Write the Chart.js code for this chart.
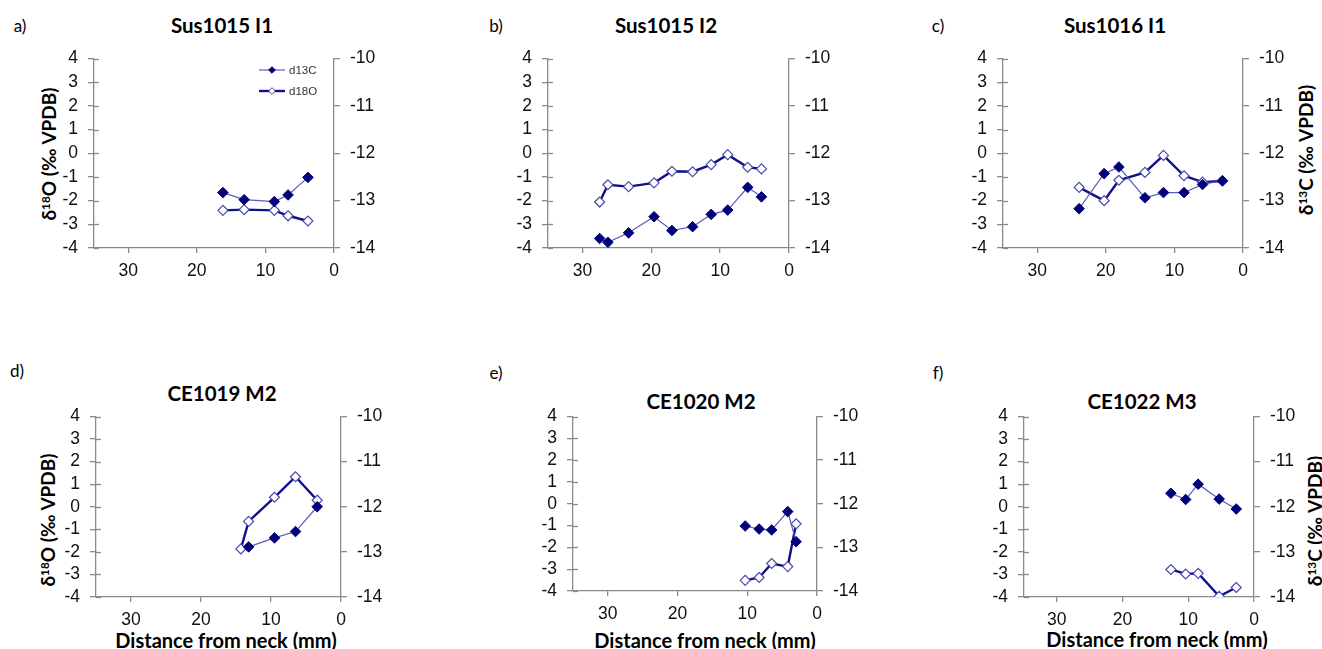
<!DOCTYPE html>
<html><head><meta charset="utf-8">
<script src="https://cdn.jsdelivr.net/npm/chart.js@4.4.1/dist/chart.umd.min.js"></script>
<style>
body{margin:0;background:#fff;width:1322px;height:649px;overflow:hidden;position:relative;font-family:Lato,"Open Sans",sans-serif;}
.box{position:absolute;}
.t{position:absolute;transform:translate(-50%,-50%);white-space:nowrap;color:#000;line-height:1;}
.lab{font-size:17px;}
.ttl{font-weight:bold;font-size:20.5px;}
.ax{font-weight:bold;font-size:19px;}
.axx{font-weight:bold;font-size:20px;}
.rot{transform:translate(-50%,-50%) rotate(-90deg);}
sup{font-size:0.62em;vertical-align:0.5em;line-height:0;}
</style></head><body>
<div class="t lab" style="left:20px;top:25px">a)</div>
<div class="t lab" style="left:496px;top:25px">b)</div>
<div class="t lab" style="left:938px;top:25px">c)</div>
<div class="t lab" style="left:17px;top:370px">d)</div>
<div class="t lab" style="left:496px;top:372px">e)</div>
<div class="t lab" style="left:938px;top:372px">f)</div>
<div class="t ttl" style="left:222px;top:25px">Sus1015 I1</div>
<div class="t ttl" style="left:666px;top:25px">Sus1015 I2</div>
<div class="t ttl" style="left:1115px;top:25px">Sus1016 I1</div>
<div class="t ttl" style="left:222px;top:393px">CE1019 M2</div>
<div class="t ttl" style="left:701px;top:401px">CE1020 M2</div>
<div class="t ttl" style="left:1142px;top:401px">CE1022 M3</div>
<div class="t ax rot" style="left:48px;top:154px">δ<sup>18</sup>O (‰ VPDB)</div>
<div class="t ax rot" style="left:47px;top:520px">δ<sup>18</sup>O (‰ VPDB)</div>
<div class="t ax rot" style="left:1305px;top:150px">δ<sup>13</sup>C (‰ VPDB)</div>
<div class="t ax rot" style="left:1314px;top:521px">δ<sup>13</sup>C (‰ VPDB)</div>
<div class="t axx" style="left:226px;top:640px">Distance from neck (mm)</div>
<div class="t axx" style="left:705px;top:640px">Distance from neck (mm)</div>
<div class="t axx" style="left:1157px;top:639px">Distance from neck (mm)</div>
<script>
// ---- data (distance from neck in mm; d13C on right axis, d18O on left axis, ‰ VPDB) ----
const aDist = [16.2, 13.1, 8.7, 6.7, 3.8];
const aD13C = [-12.83, -12.98, -13.02, -12.88, -12.51];
const aD18O = [-2.41, -2.38, -2.41, -2.64, -2.86];

const bDist = [27.5, 26.3, 23.3, 19.6, 17.0, 14.0, 11.3, 8.9, 6.0, 4.0];
const bD13C = [-13.80, -13.88, -13.68, -13.34, -13.63, -13.55, -13.29, -13.20, -12.72, -12.92];
const bD18O = [-2.06, -1.33, -1.41, -1.25, -0.76, -0.78, -0.48, -0.06, -0.59, -0.66];

const cDist = [23.9, 20.25, 18.1, 14.3, 11.6, 8.6, 5.9, 3.0];
const cD13C = [-13.17, -12.43, -12.29, -12.94, -12.83, -12.83, -12.66, -12.58];
const cD18O = [-1.44, -2.00, -1.14, -0.81, -0.09, -0.95, -1.22, -1.17];

const dDistC = [13.2, 9.5, 6.5, 3.4];
const dD13C = [-12.89, -12.69, -12.55, -12.0];
const dDistO = [14.3, 13.2, 9.5, 6.5, 3.4];
const dD18O = [-1.87, -0.65, 0.42, 1.33, 0.29];

const eDist = [10.3, 8.3, 6.5, 4.2, 3.0];
const eD13C = [-12.51, -12.58, -12.60, -12.18, -12.87];
const eD18O = [-3.51, -3.38, -2.74, -2.88, -0.92];

const fDist = [12.65, 10.4, 8.5, 5.3, 2.7];
const fD13C = [-11.70, -11.84, -11.50, -11.83, -12.05];
const fD18O = [-2.78, -2.98, -2.95, -3.97, -3.58];

const xTicks = [30, 20, 10, 0];
const leftTicks = [-4, -3, -2, -1, 0, 1, 2, 3, 4];
const rightTicks = [-14, -13, -12, -11, -10];
const seriesNames = ['d13C', 'd18O'];

// ---- layout ----
const WL = 60, WR = 60, PT = 15, HB = 40;
const panels = [
  {area:[94, 53, 334, 248], xc:aDist, c:aD13C, xo:aDist, o:aD18O, legend:true},
  {area:[548, 53, 789, 248], xc:bDist, c:bD13C, xo:bDist, o:bD18O},
  {area:[1003, 53, 1243, 248], xc:cDist, c:cD13C, xo:cDist, o:cD18O},
  {area:[96, 411, 341, 597], xc:dDistC, c:dD13C, xo:dDistO, o:dD18O},
  {area:[573, 411, 817, 591], xc:eDist, c:eD13C, xo:eDist, o:eD18O},
  {area:[1024, 411, 1254, 597], xc:fDist, c:fD13C, xo:fDist, o:fD18O}
];

const AX = '#8a8a8a';
Chart.defaults.font.family = 'Arial';
Chart.defaults.font.size = 17;

const innerTicks = {
  id:'innerTicks',
  afterDraw(chart){
    const {ctx, chartArea, scales} = chart;
    ctx.save();
    ctx.strokeStyle = AX; ctx.lineWidth = 1.3;
    leftTicks.forEach(v => {
      const y = Math.round(scales.y.getPixelForValue(v)) + 0.5;
      ctx.beginPath(); ctx.moveTo(chartArea.left, y); ctx.lineTo(chartArea.left + 5, y); ctx.stroke();
    });
    ctx.restore();
  }
};

const legendPlugin = {
  id:'cornerLegend',
  afterDatasetsDraw(chart, args, opts){
    if (!opts.show) return;
    const {ctx, chartArea} = chart;
    ctx.save();
    chart.data.datasets.forEach((ds, i) => {
      const y = chartArea.top + 11.5 + i * 21;
      const x0 = chartArea.right - 75, x1 = chartArea.right - 49;
      ctx.strokeStyle = ds.borderColor; ctx.lineWidth = ds.borderWidth;
      ctx.beginPath(); ctx.moveTo(x0, y); ctx.lineTo(x1, y); ctx.stroke();
      ctx.fillStyle = ds.pointBackgroundColor; ctx.strokeStyle = ds.pointBorderColor; ctx.lineWidth = 1;
      Chart.helpers.drawPoint(ctx, {pointStyle:'rectRot', radius:3.3, borderWidth:1}, (x0 + x1) / 2, y);
      ctx.fillStyle = '#333';
      ctx.font = '11.5px Arial';
      ctx.textBaseline = 'middle';
      ctx.fillText(ds.label, x1 + 4, y + 0.5);
    });
    ctx.restore();
  }
};

panels.forEach(p => {
  const [L, T, R, B] = p.area;
  const div = document.createElement('div');
  div.className = 'box';
  const w = (R - L) + WL + WR, h = (B - T) + PT + HB;
  div.style.left = (L - WL) + 'px';
  div.style.top = (T - PT) + 'px';
  div.style.width = w + 'px';
  div.style.height = h + 'px';
  const cv = document.createElement('canvas');
  cv.width = w; cv.height = h;
  cv.style.width = w + 'px'; cv.style.height = h + 'px';
  div.appendChild(cv);
  document.body.appendChild(div);

  const tickOpts = (pad) => ({padding:pad, color:'#111', autoSkip:false, maxRotation:0, font:{family:'Arial', size:17.5}});
  const gridCommon = {display:true, drawOnChartArea:false, drawTicks:true, color:AX, lineWidth:1.3};
  new Chart(cv, {
    type:'line',
    data:{datasets:[
      {label:seriesNames[0], yAxisID:'y2',
       data:p.xc.map((x, i) => ({x, y:p.c[i]})),
       borderColor:'#5c5cb8', borderWidth:1.2,
       pointStyle:'rectRot', pointRadius:5.3, pointBackgroundColor:'#00007a', pointBorderColor:'#00007a', pointBorderWidth:1},
      {label:seriesNames[1], yAxisID:'y',
       data:p.xo.map((x, i) => ({x, y:p.o[i]})),
       borderColor:'#10108a', borderWidth:2.4,
       pointStyle:'rectRot', pointRadius:5, pointBackgroundColor:'#ffffff', pointBorderColor:'#4a4aaa', pointBorderWidth:1.2}
    ]},
    options:{
      responsive:false, animation:false, devicePixelRatio:1,
      layout:{padding:{top:PT, left:0, right:0, bottom:0}},
      plugins:{legend:{display:false}, tooltip:{enabled:false}, cornerLegend:{show:!!p.legend}},
      elements:{line:{tension:0}},
      scales:{
        x:{type:'linear', min:0, max:35, reverse:true,
           afterBuildTicks(s){ s.ticks = xTicks.map(v => ({value:v})); },
           ticks:tickOpts(8),
           grid:Object.assign({}, gridCommon, {tickLength:5}),
           border:{display:true, color:AX, width:1.3},
           afterFit(s){ s.height = HB; }},
        y:{type:'linear', position:'left', min:-4, max:4,
           afterBuildTicks(s){ s.ticks = leftTicks.map(v => ({value:v})); },
           ticks:tickOpts(10),
           grid:Object.assign({}, gridCommon, {tickLength:6}),
           border:{display:true, color:AX, width:1.3},
           afterFit(s){ s.width = WL; }},
        y2:{type:'linear', position:'right', min:-14, max:-10,
           afterBuildTicks(s){ s.ticks = rightTicks.map(v => ({value:v})); },
           ticks:tickOpts(10),
           grid:Object.assign({}, gridCommon, {tickLength:6}),
           border:{display:true, color:AX, width:1.3},
           afterFit(s){ s.width = WR; }}
      }
    },
    plugins:[innerTicks, legendPlugin]
  });
});
</script>
</body></html>
